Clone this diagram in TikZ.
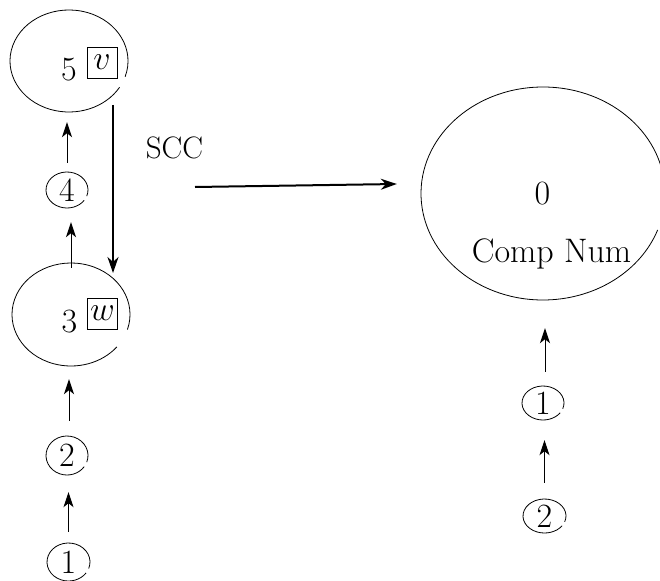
\RequirePackage{fix-cm}
\documentclass[tikz,border=0pt]{standalone}
\usetikzlibrary{shapes.geometric,arrows.meta}
\newcommand\gapell[5]{\draw[ring] ([shift={(#4:#2pt and #3pt)}]#1.center) arc[start angle=#4, end angle=#5, x radius=#2pt, y radius=#3pt];}
\begin{document}
\begin{tikzpicture}[x=1pt,y=-1pt,
  every node/.style={font=\fontsize{34}{40}\selectfont, inner sep=0pt},
  ring/.style={line width=0.8pt},
  lbox/.style={draw, line width=0.8pt, minimum width=30pt, minimum height=31pt},
  thinarr/.style={line width=1pt, -{Stealth[length=15pt,width=10pt,inset=4pt]}},
  thickarr/.style={line width=2pt, -{Stealth[length=16pt,width=11pt,inset=5pt]}}]
\path[use as bounding box] (0,0) rectangle (660,580);
% left graph
\node[ellipse, minimum width=118pt, minimum height=102pt] (n5) at (69,61) {};
\node (l5) at (69,70) {5};
\node[lbox] (v) at (102,62.5) {$v$};
\node[ellipse, minimum width=42pt, minimum height=36pt] (n4) at (67,190) {4};
\node[ellipse, minimum width=118pt, minimum height=103pt] (n3) at (71,314.5) {};
\node (l3) at (69.5,322) {3};
\node[lbox] (w) at (102.5,313.5) {$w$};
\node[ellipse, minimum width=42pt, minimum height=39pt] (n2) at (67,455.5) {2};
\node[ellipse, minimum width=43pt, minimum height=38pt] (n1) at (68.5,562) {1};
\gapell{n5}{59}{51}{-18}{329}
\gapell{n4}{21}{18}{-20}{325}
\gapell{n3}{59}{51.5}{-17}{321}
\gapell{n2}{21}{19.5}{-20}{325}
\gapell{n1}{21.5}{19}{-20}{325}
% right graph
\node[ellipse, minimum width=244pt, minimum height=213pt] (b0) at (543,193.5) {};
\node (l0) at (542.5,194) {0};
\node (cn) at (551.5,254) {Comp Num};
\node[ellipse, minimum width=42pt, minimum height=34pt] (r1) at (543,403) {1};
\node[ellipse, minimum width=43pt, minimum height=34pt] (r2) at (544.5,516) {2};
\gapell{b0}{122}{106.5}{2}{340}
\gapell{r1}{21}{17}{-20}{325}
\gapell{r2}{21.5}{17}{-20}{325}
% SCC
\node[font=\fontsize{31}{37}\selectfont] (scc) at (174.5,147.5) {SCC};
% connectors
\draw[thinarr, shorten <=9pt, shorten >=10pt] (n4.north) -- (n4.north |- n5.south);
\draw[thinarr, shorten <=-5pt, shorten >=14pt] (n3.north) -- (n3.north |- n4.south);
\draw[thickarr] ([xshift=44pt,yshift=-44pt]n5.center) -- ([xshift=42pt,yshift=41.5pt]n3.center);
\draw[thinarr, shorten <=15pt, shorten >=13pt] ([xshift=2pt]n2.north) -- ([xshift=2pt]n2.north |- n3.south);
\draw[thinarr, shorten <=11pt, shorten >=17pt] (n1.north) -- (n1.north |- n2.south);
\draw[thickarr] ([xshift=20.5pt,yshift=-39.5pt]scc.center) -- ([xshift=-24pt,yshift=9.5pt]b0.west);
\draw[thinarr, shorten <=14pt, shorten >=28pt] ([xshift=2pt]r1.north) -- ([xshift=2pt]r1.north |- b0.south);
\draw[thinarr, shorten <=16pt, shorten >=20pt] (r2.north) -- (r2.north |- r1.south);
\end{tikzpicture}
\end{document}
